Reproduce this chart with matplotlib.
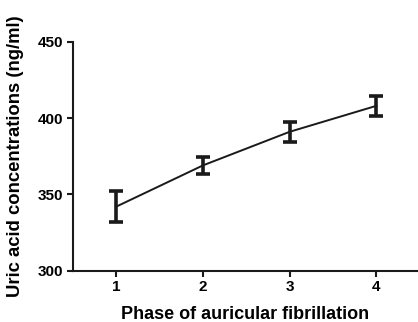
import numpy as np
import matplotlib.pyplot as plt

plt.rcParams['font.family'] = ['Liberation Sans', 'DejaVu Sans']

# data
phases = [1, 2, 3, 4]
means = [342, 369, 391, 408]
errs = [10, 5.5, 6.5, 6.5]
yticks = [300, 350, 400, 450]

fig = plt.figure(figsize=(4.18, 3.22), dpi=100)
ax = fig.add_axes([0.1746, 0.1593, 0.8254, 0.7112])

ax.errorbar(phases, means, yerr=errs, color='#1a1a1a', lw=1.4,
            elinewidth=2.6, capsize=5, capthick=2.6)

ax.set_xlim(0.5, 4.48)
ax.set_ylim(300, 450)
ax.set_xticks(phases)
ax.set_yticks(yticks)
for s in ['top', 'right']:
    ax.spines[s].set_visible(False)
for s in ['left', 'bottom']:
    ax.spines[s].set_linewidth(1.5)
    ax.spines[s].set_color('#1a1a1a')
ax.tick_params(width=1.5, length=4, color='#1a1a1a', labelsize=11, pad=3)
for lab in ax.get_xticklabels() + ax.get_yticklabels():
    lab.set_fontweight('bold')

ax.set_xlabel('Phase of auricular fibrillation', fontsize=13, fontweight='bold', labelpad=8.5)
ax.set_ylabel('Uric acid concentrations (ng/ml)', fontsize=13.3, fontweight='bold', labelpad=10)

fig.savefig('out.png', dpi=100)
